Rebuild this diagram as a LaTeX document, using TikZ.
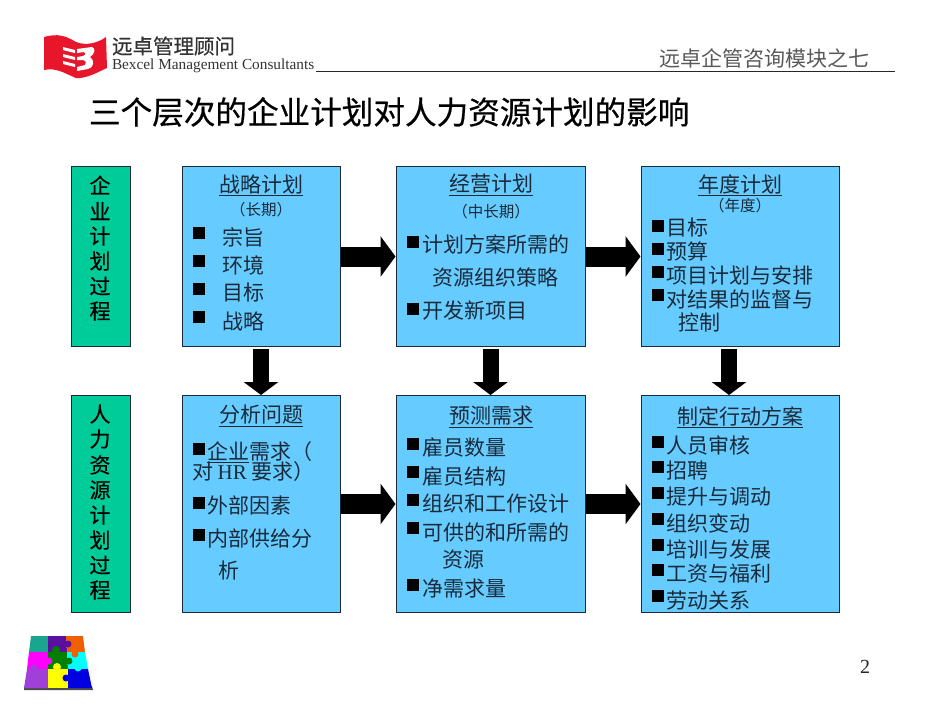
\documentclass[tikz,border=0pt]{standalone}
\usepackage{fontspec}
\usetikzlibrary{arrows.meta}
\setmainfont{Liberation Serif}
\newfontfamily\cjk{Noto Sans CJK SC}
\newfontfamily\cjkb[FakeBold=0.5]{Noto Sans CJK SC}
\definecolor{boxblue}{HTML}{66CCFF}
\definecolor{boxgreen}{HTML}{00CC99}
\definecolor{inkc}{HTML}{1A2A3A}
\definecolor{logored}{HTML}{E8162B}
\definecolor{pzteal}{HTML}{1AA58F}
\definecolor{pzviolet}{HTML}{5A0FA0}
\definecolor{pzorange}{HTML}{F06000}
\definecolor{pzmagenta}{HTML}{FF00FF}
\definecolor{pzgreen}{HTML}{008000}
\definecolor{pzcyan}{HTML}{00FFFF}
\definecolor{pzpurple}{HTML}{A040D8}
\definecolor{pzyellow}{HTML}{FFFF00}
\definecolor{pzblue}{HTML}{0000E0}
\newcounter{tc}
\newcommand{\fsz}[1]{\fontsize{#1}{#1}\selectfont}
% left-anchored text line
\newcommand{\Ll}[3]{\stepcounter{tc}\node[txt,anchor=west] (t\arabic{tc}) at (#1,#2) {#3};}
% centred text line
\newcommand{\Cl}[4]{\stepcounter{tc}\node[txt,anchor=center,font=\cjk\fsz{#4}] (t\arabic{tc}) at (#1,#2) {#3};}
% side label character
\newcommand{\Sl}[2]{\stepcounter{tc}\node[txt,anchor=center,text=black,font=\cjkb\fsz{21}] (t\arabic{tc}) at (100,#1) {#2};}
% bullet
\newcommand{\Bl}[2]{\stepcounter{tc}\node[bull] (t\arabic{tc}) at (#1,#2) {};}
\tikzset{
  txt/.style={inner sep=0pt,outer sep=0pt,text=inkc,font=\cjk\fsz{21}},
  bull/.style={fill=black,inner sep=0pt,minimum size=12pt,anchor=center},
  panel/.style={draw=inkc,line width=1pt,fill=boxblue,inner sep=0pt,anchor=north west},
  side/.style={draw=inkc,line width=1pt,fill=boxgreen,inner sep=0pt,anchor=north west,minimum width=59pt},
  flow/.style={draw=black,line width=20pt,-{Triangle[length=15pt,width=40pt]},shorten <=0.5pt},
  down/.style={draw=black,line width=16pt,-{Triangle[length=13pt,width=34pt]},shorten <=2pt}
}
\begin{document}
\begin{tikzpicture}[x=1pt,y=-1pt]
\useasboundingbox (0,0) rectangle (950,713);
\fill[white] (0,0) rectangle (950,713);

% logo
\fill[logored] (44,37) .. controls (58,33) and (66,36) .. (76,42) .. controls (86,46) and (98,43) .. (106,37)
  -- (107,68) .. controls (98,72) and (86,79) .. (76,78) .. controls (66,74) and (56,67) .. (44,70) -- cycle;
\fill[white] (63,47) -- (75,50) -- (75,53) -- (63,50) -- cycle;
\fill[white] (63,54) -- (75,57) -- (75,60) -- (63,57) -- cycle;
\fill[white] (63,61) -- (75,64) -- (75,67) -- (63,64) -- cycle;
\fill[white] (77,49) -- (92,47) .. controls (96,48) and (95,54) .. (90,57) .. controls (95,60) and (94,68) .. (88,69)
  -- (77,71) -- (77,67) -- (85,65) .. controls (87,63) and (86,61) .. (83,60) -- (77,60) -- (77,57) -- (83,56) .. controls (86,55) and (86,52) .. (84,52) -- (77,53) -- cycle;
\node[txt,anchor=west,font=\cjkb\fsz{20.5},text=black!80] (logozh) at (112,46) {远卓管理顾问};
\node[txt,anchor=west,font=\fsz{15.3},text=black!80] (logoen) at (112,66) {Bexcel Management Consultants};
\coordinate (ruleR) at (895,71.5);
\draw[line width=1.2pt,black!85] (logoen.east |- ruleR) ++(2,0) -- (ruleR);
\node[txt,anchor=west,font=\cjk\fsz{21},text=black!65] (hdr) at (659,59) {远卓企管咨询模块之七};

% title
\node[txt,anchor=west,font=\cjkb\fsz{31.6},text=black] (title) at (89,112) {三个层次的企业计划对人力资源计划的影响};

% side boxes
\node[side,minimum height=180pt] (s1) at (70.5,166) {};
\node[side,minimum height=217pt] (s2) at (70.5,395) {};
% panels
\node[panel,minimum width=158pt,minimum height=180pt] (a1) at (181.5,166) {};
\node[panel,minimum width=189pt,minimum height=180pt] (a2) at (395.5,166) {};
\node[panel,minimum width=198pt,minimum height=180pt] (a3) at (640.5,166) {};
\node[panel,minimum width=158pt,minimum height=217pt] (b1) at (181.5,395) {};
\node[panel,minimum width=189pt,minimum height=217pt] (b2) at (395.5,395) {};
\node[panel,minimum width=198pt,minimum height=217pt] (b3) at (640.5,395) {};

% connectors
\draw[flow] (a1.east) -- (a2.west);
\draw[flow] (a2.east) -- (a3.west);
\draw[flow] (b1.east) -- (b2.west);
\draw[flow] (b2.east) -- (b3.west);
\draw[down] (a1.south) -- (b1.north);
\draw[down] (a2.south) -- (b2.north);
\draw[down] ([xshift=-11pt]a3.south) -- ([xshift=-11pt]b3.north);

% vertical labels
\Sl{185}{企}\Sl{211}{业}\Sl{236}{计}\Sl{261}{划}\Sl{286}{过}\Sl{311}{程}
\Sl{414}{人}\Sl{439}{力}\Sl{465}{资}\Sl{490}{源}\Sl{515}{计}\Sl{540}{划}\Sl{565}{过}\Sl{590}{程}

% A1
\Cl{261}{185}{\underline{战略计划}}{21}
\Cl{261}{210}{（长期）}{15.5}
\Bl{199}{233}\Ll{222}{237}{宗旨}
\Bl{199}{261}\Ll{222}{265}{环境}
\Bl{199}{289}\Ll{222}{293}{目标}
\Bl{199}{317}\Ll{222}{321}{战略}
% A2
\Cl{491}{185}{\underline{经营计划}}{21}
\Cl{491}{212}{（中长期）}{15.5}
\Bl{413}{242}\Ll{422}{244}{计划方案所需的}
\Ll{432}{277}{资源组织策略}
\Bl{413}{309}\Ll{422}{311}{开发新项目}
% A3
\Cl{740}{185}{\underline{年度计划}}{21}
\Cl{740}{206}{（年度）}{15.5}
\Bl{658}{226}\Ll{666}{228}{目标}
\Bl{658}{249}\Ll{666}{251}{预算}
\Bl{658}{272}\Ll{666}{275}{项目计划与安排}
\Bl{658}{295}\Ll{666}{299}{对结果的监督与}
\Ll{678}{322}{控制}
% B1
\Cl{261}{416}{\underline{分析问题}}{21}
\Bl{199}{449}\Ll{207}{452}{\underline{企业}需求（}
\Ll{192}{472}{对 {\rmfamily HR} 要求）}
\Bl{199}{503}\Ll{207}{505}{外部因素}
\Bl{199}{535}\Ll{207}{538}{内部供给分}
\Ll{218}{571}{析}
% B2
\Cl{491}{417}{\underline{预测需求}}{21}
\Bl{413}{444}\Ll{422}{447}{雇员数量}
\Bl{413}{472}\Ll{422}{476}{雇员结构}
\Bl{413}{500}\Ll{422}{504}{组织和工作设计}
\Bl{413}{528}\Ll{422}{532}{可供的和所需的}
\Ll{442}{560}{资源}
\Bl{413}{585}\Ll{422}{589}{净需求量}
% B3
\Cl{740}{417}{\underline{制定行动方案}}{21}
\Bl{658}{442}\Ll{666}{445}{人员审核}
\Bl{658}{467}\Ll{666}{471}{招聘}
\Bl{658}{493}\Ll{666}{497}{提升与调动}
\Bl{658}{519}\Ll{666}{523}{组织变动}
\Bl{658}{545}\Ll{666}{549}{培训与发展}
\Bl{658}{570}\Ll{666}{574}{工资与福利}
\Bl{658}{596}\Ll{666}{600}{劳动关系}

% page number
\node[txt,font=\fsz{20},text=black!85] (pg) at (865,667) {2};

% puzzle
\fill[black!70] (24,686) -- (92,686) -- (93,690) -- (24,690) -- cycle;
\fill[pzteal] (31,636) -- (48,636) -- (48,652) -- (29,652) -- cycle;
\fill[pzviolet] (48,636) -- (66,636) -- (67,652) -- (48,652) -- cycle;
\fill[pzorange] (66,636) -- (83,636) -- (85,652) -- (67,652) -- cycle;
\fill[pzmagenta] (29,652) -- (48,652) -- (48,669) -- (27,669) -- cycle;
\fill[pzgreen] (48,652) -- (67,652) -- (68,669) -- (48,669) -- cycle;
\fill[pzcyan] (67,652) -- (85,652) -- (88,669) -- (68,669) -- cycle;
\fill[pzpurple] (27,669) -- (48,669) -- (48,688) -- (24,688) -- cycle;
\fill[pzyellow] (48,669) -- (68,669) -- (68,688) -- (48,688) -- cycle;
\fill[pzblue] (68,669) -- (88,669) -- (92,688) -- (68,688) -- cycle;
\fill[pzteal] (44,641) circle (4);
\fill[pzviolet] (68,644) circle (3.5);
\fill[pzorange] (75,654) circle (3.5);
\fill[pzmagenta] (49,661) circle (3.5);
\fill[pzgreen] (56,650) circle (4);
\fill[pzgreen] (69,661) circle (3.5);
\fill[pzcyan] (78,668) circle (3.5);
\fill[pzyellow] (57,667) circle (4);
\fill[pzblue] (66,678) circle (3.5);
\fill[pzpurple] (34,668) circle (3.5);
\end{tikzpicture}
\end{document}
